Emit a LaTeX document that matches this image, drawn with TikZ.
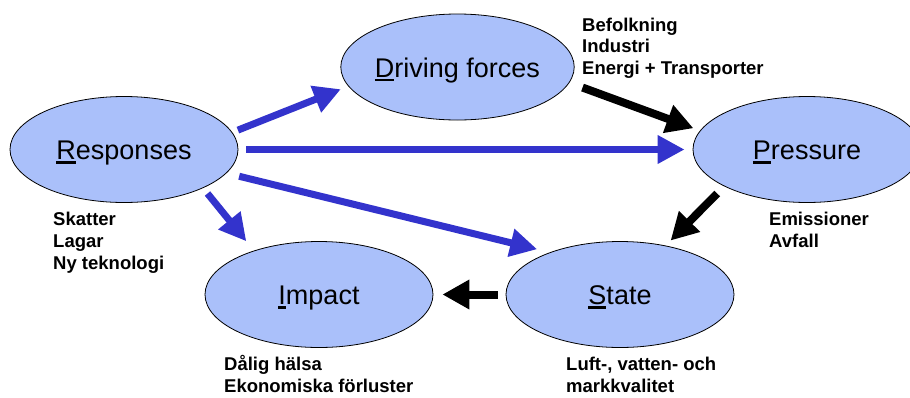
\documentclass[tikz,border=0pt]{standalone}
\usepackage{fontspec}
\setmainfont{Liberation Sans}
\usetikzlibrary{shapes.geometric,arrows.meta}
\definecolor{dpsirfill}{RGB}{170,192,250}
\definecolor{dpsirblue}{RGB}{51,51,204}
\def\ulfirst#1{\setbox0\hbox{#1}\rlap{\rule[-4pt]{\wd0}{2.2pt}}\box0}
\tikzset{
	dpsir/.style={ellipse, draw=black, line width=0.8pt, fill=dpsirfill, minimum width=228pt, minimum height=106pt, inner sep=0pt, text height=20pt, text depth=0pt, font=\fontsize{27}{32}\selectfont},
	note/.style={anchor=base west, align=left, inner sep=0pt, font=\fontsize{18.5}{21.7}\selectfont\bfseries},
	bluearrow/.style={draw=dpsirblue, line width=7pt, -{Triangle[length=27pt,width=27pt]}},
	blackarrow/.style={draw=black, line width=8pt, -{Triangle[length=27pt,width=28pt]}}
}

\begin{document}
\begin{tikzpicture}[x=1pt,y=-1pt]
			%%%%% START %%%%%
			
			\useasboundingbox (0,0) rectangle (910,397);
			\clip (0,0) rectangle (910,397);
			
			\node[dpsir] (resp) at (124, 149.5) {\ulfirst{R}esponses};
			\node[dpsir, minimum width=227pt] (drive) at (457.5, 67) {\ulfirst{D}riving forces};
			\node[dpsir] (press) at (807, 149.5) {\ulfirst{P}ressure};
			\node[dpsir] (impact) at (319, 294.5) {\ulfirst{I}mpact};
			\node[dpsir] (state) at (620, 294.5) {\ulfirst{S}tate};
			
			% base = last line
			\node[note] (ndrive) at (582, 74.4) {Befolkning\\Industri\\Energi + Transporter};
			\node[note] (nresp) at (53, 269) {Skatter\\Lagar\\Ny teknologi};
			\node[note] (npress) at (769, 247) {Emissioner\\Avfall};
			\node[note] (nimpact) at (224, 392.5) {Dålig hälsa\\Ekonomiska förluster};
			\node[note] (nstate) at (566, 392.5) {Luft-, vatten- och\\markkvalitet};
			
			\draw[bluearrow, shorten <=6pt, shorten >=8pt] (resp.9) -- (drive.190);
			\draw[bluearrow, shorten <=8pt, shorten >=8pt] (resp.east) -- (press.west);
			\draw[bluearrow, shorten <=13pt, shorten >=13pt] (resp.-13) -- (state.149);
			\draw[bluearrow, shorten <=7pt, shorten >=12pt] (resp.-26) -- (impact.146);
			
			\draw[blackarrow, shorten <=14pt, shorten >=7pt] (drive.-8) -- (press.170);
			\draw[blackarrow, shorten <=10pt, shorten >=7pt] (press.204) -- (state.47);
			\draw[blackarrow, shorten <=8pt, shorten >=9pt] (state.west) -- (impact.east);
			
			%%%%% END %%%%%
\end{tikzpicture}
\end{document}
